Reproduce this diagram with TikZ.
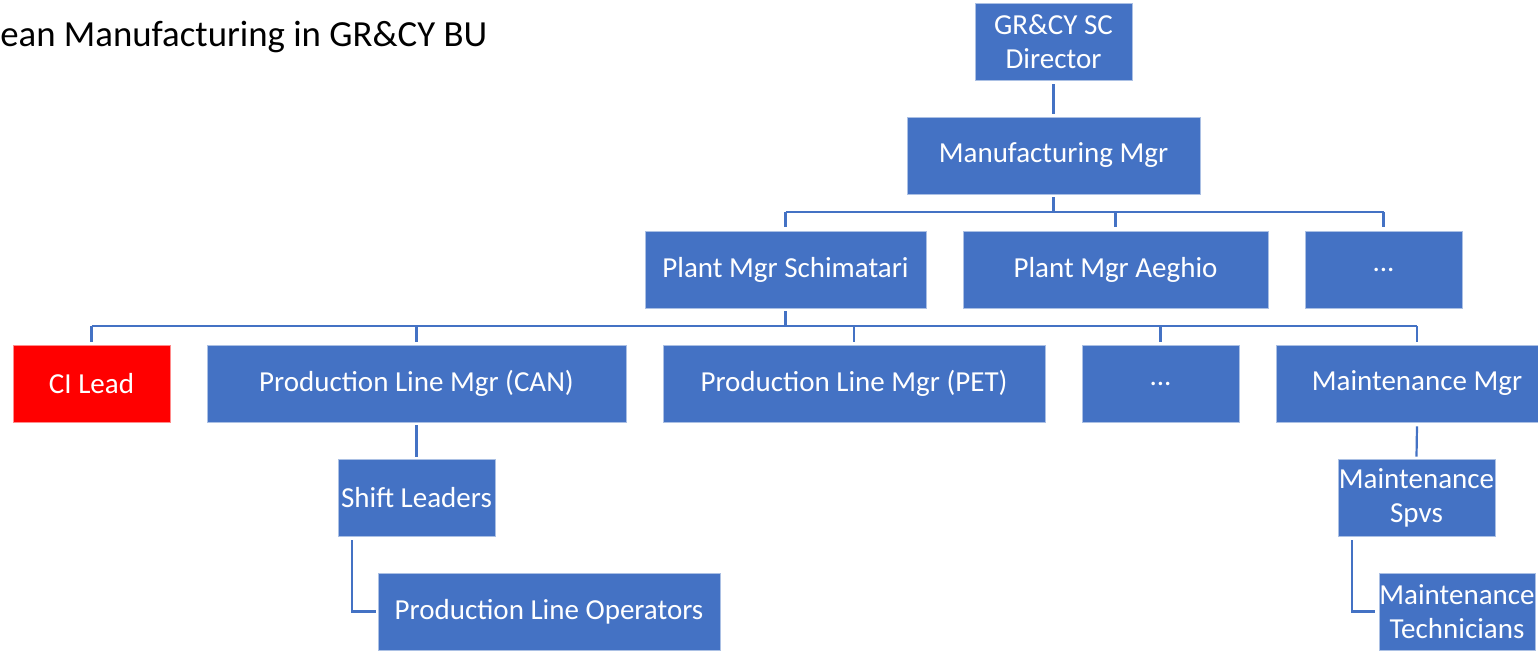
\documentclass[tikz,border=0pt]{standalone}
\usepackage{fontspec}
\setmainfont{Carlito}
\definecolor{ob}{HTML}{4472C4}
\definecolor{cired}{HTML}{FF0000}
\tikzset{
  box/.style={fill=ob, draw=white!55!ob, line width=0.4pt, text=white, align=center, inner sep=0pt,
    font=\fontsize{14.5}{17}\selectfont},
  redbox/.style={fill=cired, draw=white!55!cired},
  conn/.style={draw=ob, line width=1.1pt},
}
\newcommand\orgbox[6][]{\node[box,#1,minimum width={(#5-#3)*0.5pt},minimum height={(#6-#4)*0.5pt}] (#2) at ({(#3+#5)/2},{(#4+#6)/2})}
\begin{document}
\begin{tikzpicture}[x=0.5pt,y=-0.5pt]
\useasboundingbox (0,0) rectangle (1538,650);
\clip (0,0) rectangle (1538,650);
\node[anchor=base west, inner sep=0pt, font=\fontsize{18.4}{21}\selectfont] (title) at (0,46) {ean Manufacturing in GR\&CY BU};

\orgbox{dir}{975}{3}{1132}{80}{GR\&CY SC\\Director};
\orgbox{mfg}{907}{117}{1200}{194}{Manufacturing Mgr};
\orgbox{pschim}{645}{231}{926}{308}{Plant Mgr Schimatari};
\orgbox{paeg}{963}{231}{1268}{308}{Plant Mgr Aeghio};
\orgbox{pdots}{1305}{231}{1462}{308}{...};
\orgbox[redbox]{ci}{13}{345}{170}{422}{CI Lead};
\orgbox{can}{207}{345}{626}{422}{Production Line Mgr (CAN)};
\orgbox{pet}{663}{345}{1045}{422}{Production Line Mgr (PET)};
\orgbox{ldots}{1082}{345}{1239}{422}{...};
\orgbox{maint}{1276}{345}{1558}{422}{Maintenance Mgr};
\orgbox{shift}{338}{459}{495}{536}{Shift Leaders};
\orgbox{ops}{378}{573}{720}{650}{Production Line Operators};
\orgbox{spvs}{1338}{459}{1495}{536}{Maintenance\\Spvs};
\orgbox{tech}{1379}{573}{1535}{650}{Maintenance\\Technicians};

% director -> manufacturing
\draw[conn] ([yshift=-2pt]dir.south) -- ([yshift=1.5pt]mfg.north);
% manufacturing bus
\draw[conn] ([yshift=-1.5pt]mfg.south) -- (mfg.south |- 0,212);
\draw[conn] (pschim.north |- 0,212) -- (pdots.north |- 0,212);
\foreach \n in {pschim,paeg,pdots}{
  \draw[conn] (\n.north |- 0,212) -- ([yshift=2pt]\n.north);
}
% plant schimatari bus
\draw[conn] ([yshift=-1.5pt]pschim.south) -- (pschim.south |- 0,326);
\draw[conn] (ci.north |- 0,326) -- (maint.north |- 0,326);
\foreach \n in {ci,can,pet,ldots,maint}{
  \draw[conn] (\n.north |- 0,326) -- ([yshift=1.5pt]\n.north);
}
% can -> shift leaders
\draw[conn] ([yshift=-1.5pt]can.south) -- ([yshift=1pt]shift.north);
\draw[conn] ([xshift=7pt,yshift=-2pt]shift.south west) |- ([xshift=-1pt]ops.west);
% maintenance -> spvs
\draw[conn] ([yshift=-2pt]maint.south) -- ([yshift=1pt]spvs.north);
\draw[conn] ([xshift=7pt,yshift=-2pt]spvs.south west) |- ([xshift=-2pt]tech.west);
\end{tikzpicture}
\end{document}
